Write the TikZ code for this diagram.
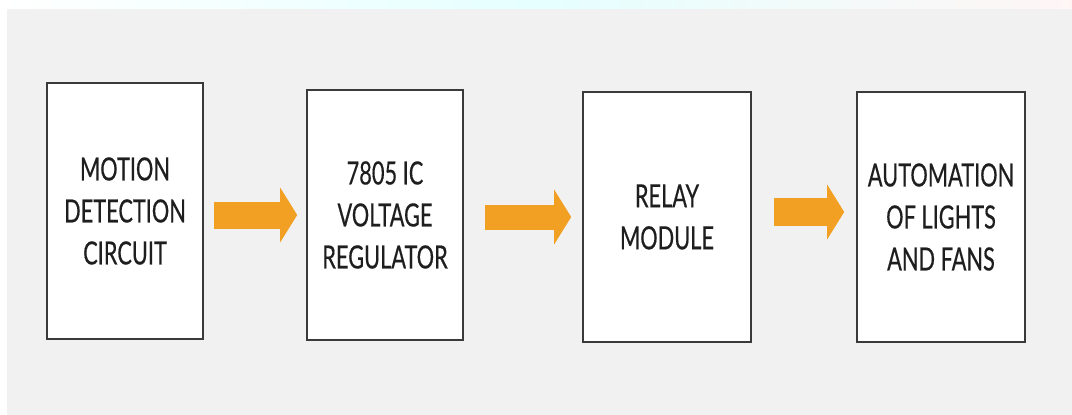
\documentclass[tikz,border=0pt]{standalone}
\usepackage{fontspec}
\newfontfamily\labfont[FakeStretch=0.68,FakeBold=0.4]{Lato}
\usetikzlibrary{arrows.meta,calc}
\definecolor{bggray}{HTML}{F1F1F1}
\definecolor{boxline}{HTML}{3A3A3A}
\definecolor{arroworange}{HTML}{F2A023}
\definecolor{txt}{HTML}{1E1E1E}
\tikzset{
  blockbox/.style={draw=boxline, line width=1.6pt, fill=white, inner sep=0pt,
    align=center, text=txt, font=\labfont\fontsize{32}{42}\selectfont},
  blockarrow/.style={draw=arroworange, line width=#1,
    -{Triangle[length=17pt,width=54pt,fill=arroworange]}}
}
\begin{document}
\begin{tikzpicture}[x=1pt,y=-1pt]
\useasboundingbox (0,0) rectangle (1072,415);
% background
\fill[white] (0,0) rectangle (1072,415);
\shade[left color=white, right color=white!85!pink, middle color=cyan!10] (0,0) rectangle (1072,9);
\fill[bggray] (7,9) rectangle (1072,415);
% boxes
\node[blockbox, minimum width=156pt, minimum height=256pt] (b1) at (125,211) {MOTION\\DETECTION\\CIRCUIT};
\node[blockbox, minimum width=156pt, minimum height=250pt] (b2) at (385,215) {7805 IC\\VOLTAGE\\REGULATOR};
\node[blockbox, minimum width=168pt, minimum height=250pt] (b3) at (667,217) {RELAY\\MODULE};
\node[blockbox, minimum width=168pt, minimum height=250pt] (b4) at (941,217) {AUTOMATION\\OF LIGHTS\\AND FANS};
% arrows
\draw[blockarrow=27pt] ($(b1.east|-b2.west)+(10,0)$) -- ($(b2.west)+(-9,0)$);
\draw[blockarrow=25pt] ($(b2.east|-b3.west)+(21,0)$) -- ($(b3.west)+(-11,0)$);
\draw[blockarrow=28pt] ($(b3.east)+(22,-5)$) -- ($(b4.west)+(-12,-5)$);
\end{tikzpicture}
\end{document}
